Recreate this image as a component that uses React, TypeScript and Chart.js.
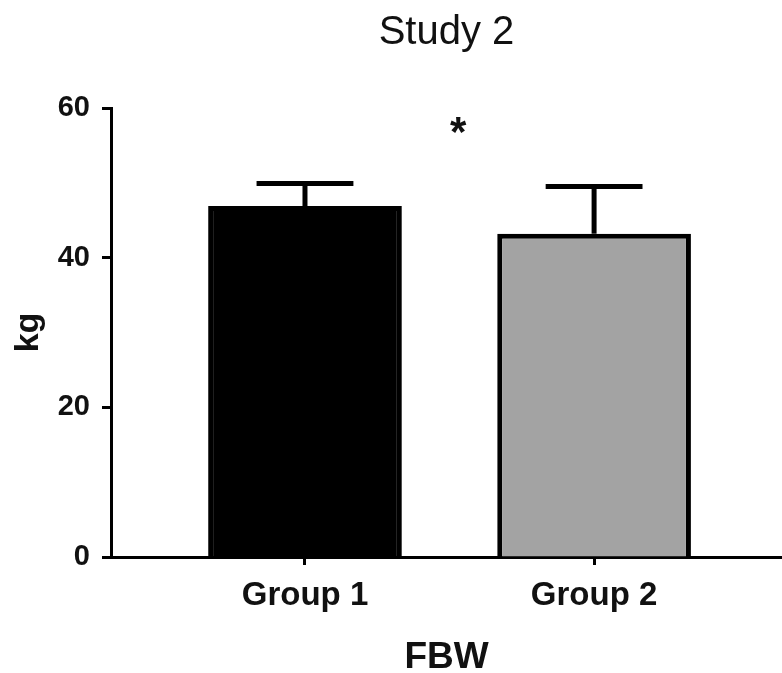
import React, { useEffect, useRef } from "react";
import { Chart, registerables } from "chart.js";

Chart.register(...registerables);

const chartTitle = "Study 2";
const groupLabels = ["Group 1", "Group 2"];
const groupPositions = [1, 2];
const meanValues = [46.9, 43.2];
const errorUpper = [49.9, 49.5];
const barColors = ["#000000", "#a3a3a3"];
const yTicks = [0, 20, 40, 60];
const yAxisTitle = "kg";
const xAxisTitle = "FBW";
const significanceMark = "*";
const significanceAt = [1.53, 57.6];

const FONT = "'Liberation Sans', Arial, Helvetica, sans-serif";
const INK = "#111111";

const errorBarPlugin = {
  id: "errorBars",
  afterDatasetsDraw(chart: any) {
    const meta = chart.getDatasetMeta(0);
    const ys = chart.scales.y;
    const xs = chart.scales.x;
    const ctx = chart.ctx;
    ctx.save();
    ctx.strokeStyle = "#000000";
    ctx.lineCap = "butt";
    meta.data.forEach((bar: any, i: number) => {
      const { x, y, width } = bar.getProps(["x", "y", "width"], true);
      const yTop = ys.getPixelForValue(errorUpper[i]);
      const half = width / 4;
      ctx.lineWidth = 5;
      ctx.beginPath();
      ctx.moveTo(x, y);
      ctx.lineTo(x, yTop);
      ctx.stroke();
      ctx.beginPath();
      ctx.moveTo(x - half, yTop);
      ctx.lineTo(x + half, yTop);
      ctx.stroke();
    });
    ctx.fillStyle = INK;
    ctx.font = `bold 42px ${FONT}`;
    ctx.textAlign = "center";
    ctx.textBaseline = "middle";
    ctx.fillText(
      significanceMark,
      xs.getPixelForValue(significanceAt[0]),
      ys.getPixelForValue(significanceAt[1]) + 8
    );
    ctx.restore();
  },
};

export default function App() {
  const canvasRef = useRef<HTMLCanvasElement | null>(null);

  useEffect(() => {
    if (!canvasRef.current) return;
    const chart = new Chart(canvasRef.current, {
      type: "bar",
      data: {
        datasets: [
          {
            data: groupPositions.map((x, i) => ({ x, y: meanValues[i] })),
            backgroundColor: barColors,
            borderColor: "#000000",
            borderWidth: 5,
            categoryPercentage: 1,
            barPercentage: 0.67,
          },
        ],
      },
      options: {
        animation: false,
        responsive: true,
        maintainAspectRatio: false,
        layout: { padding: 0 },
        plugins: {
          legend: { display: false },
          tooltip: { enabled: false },
          title: {
            display: true,
            text: chartTitle,
            fullSize: false,
            color: INK,
            font: { family: FONT, size: 40, weight: "normal", lineHeight: 1.2 },
            padding: { top: 9, bottom: 51 },
          },
        },
        scales: {
          x: {
            type: "linear",
            offset: false,
            min: 0.329,
            max: 2.65,
            afterBuildTicks: (scale: any) => {
              scale.ticks = groupPositions.map((v) => ({ value: v }));
            },
            afterFit: (scale: any) => {
              scale.height = 116;
            },
            ticks: {
              color: INK,
              font: { family: FONT, size: 33, weight: "bold" },
              padding: 11,
              maxRotation: 0,
              autoSkip: false,
              callback: (v: any) => groupLabels[groupPositions.indexOf(Number(v))] ?? "",
            },
            grid: {
              offset: false,
              drawOnChartArea: false,
              drawTicks: true,
              tickLength: 8,
              tickWidth: 3,
              tickColor: "#000000",
            },
            border: { display: true, color: "#000000", width: 3 },
            title: {
              display: true,
              text: xAxisTitle,
              color: INK,
              font: { family: FONT, size: 37, weight: "bold", lineHeight: 0.8 },
              padding: { top: 0, bottom: 0 },
            },
          },
          y: {
            type: "linear",
            min: yTicks[0],
            max: yTicks[yTicks.length - 1],
            afterBuildTicks: (scale: any) => {
              scale.ticks = yTicks.map((v) => ({ value: v }));
            },
            afterFit: (scale: any) => {
              scale.width = 111;
            },
            ticks: {
              color: INK,
              font: { family: FONT, size: 29, weight: "bold" },
              padding: 12,
            },
            grid: {
              drawOnChartArea: false,
              drawTicks: true,
              tickLength: 9,
              tickWidth: 3,
              tickColor: "#000000",
            },
            border: { display: true, color: "#000000", width: 3 },
            title: {
              display: true,
              text: yAxisTitle,
              color: INK,
              font: { family: FONT, size: 34, weight: "bold", lineHeight: 1.2 },
              padding: { top: 8, bottom: 0 },
            },
          },
        },
      },
      plugins: [errorBarPlugin],
    } as any);
    return () => chart.destroy();
  }, []);

  return (
    <div style={{ position: "fixed", left: 0, top: 0, width: 782, height: 673, background: "#ffffff" }}>
      <canvas ref={canvasRef} />
    </div>
  );
}
